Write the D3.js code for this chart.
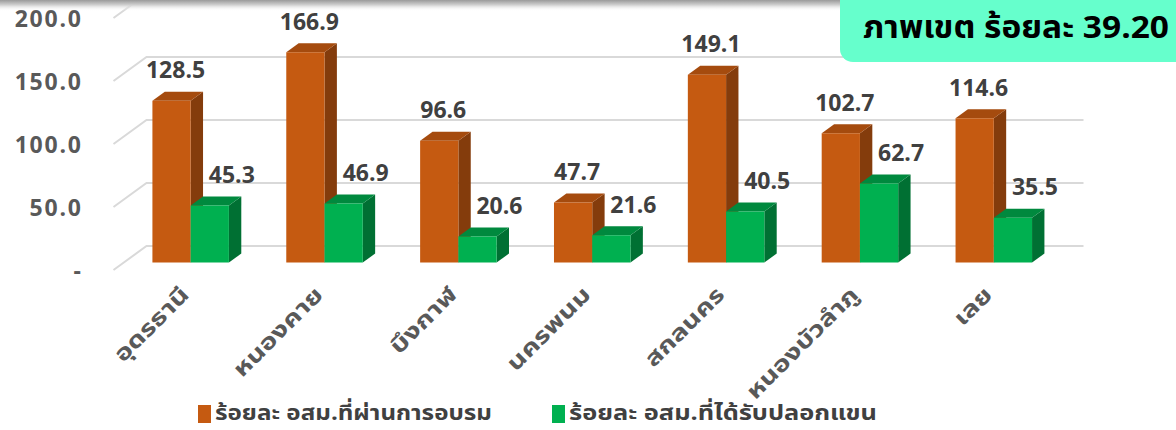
<!DOCTYPE html>
<html><head><meta charset="utf-8">
<script src="https://cdn.jsdelivr.net/npm/d3@7"></script>
<style>
html,body{margin:0;padding:0;background:#fff;}
svg{display:block;font-family:"Noto Sans Thai","Noto Sans","DejaVu Sans",sans-serif;}
</style></head>
<body><svg id="c" width="1176" height="430"></svg>
<script>
const categories = ["อุดรธานี","หนองคาย","บึงกาฬ","นครพนม","สกลนคร","หนองบัวลำภู","เลย"];
const trained = [128.5,166.9,96.6,47.7,149.1,102.7,114.6];
const sleeved = [45.3,46.9,20.6,21.6,40.5,62.7,35.5];
const seriesNames = ["ร้อยละ อสม.ที่ผ่านการอบรม","ร้อยละ อสม.ที่ได้รับปลอกแขน"];
const yTicks = [0,50,100,150,200];
const yTickLabels = ["-","50.0","100.0","150.0","200.0"];
const titleText = "ภาพเขต ร้อยละ 39.20";

const svg = d3.select("#c");

// oblique 3D projection parameters
const depthDX = 33, depthDY = -24;   // front floor edge -> back wall
const barZ0 = 0.31, barZ1 = 0.685;   // bar front / back depth fraction

const x = d3.scaleBand().domain(categories).range([113.5,1050.5]).paddingInner(0.4285).paddingOuter(0.2143);
const xs = d3.scaleBand().domain([0,1]).range([0, x.bandwidth()]);
const y = d3.scaleLinear().domain([0,200]).range([270,18]);

const proj = (px, v, z) => [px + z*depthDX, y(v) + z*depthDY];

const colors = [
  {front:"#C55A11", top:"#A54B0E", side:"#843C0C"},
  {front:"#00B050", top:"#00893E", side:"#007033"}
];

// top shadow gradient
const defs = svg.append("defs");
const g1 = defs.append("linearGradient").attr("id","sh").attr("x1",0).attr("y1",0).attr("x2",0).attr("y2",1);
g1.append("stop").attr("offset","0%").attr("stop-color","#9a9a9a");
g1.append("stop").attr("offset","45%").attr("stop-color","#d0d0d0");
g1.append("stop").attr("offset","100%").attr("stop-color","#ffffff").attr("stop-opacity",0);

// gridlines: back wall + left side wall
const grid = svg.append("g").attr("stroke","#D9D9D9").attr("stroke-width",2).attr("fill","none");
yTicks.forEach(v=>{
  const a = proj(x.range()[0], v, 0), b = proj(x.range()[0], v, 1), c = proj(x.range()[1], v, 1);
  grid.append("path").attr("d", d3.line()([a,b,c]));
});

// bars
const barsG = svg.append("g");
categories.forEach((cat,i)=>{
  [trained[i], sleeved[i]].forEach((v,s)=>{
    const xl = x(cat) + xs(s), xr = xl + xs.bandwidth();
    const fTL = proj(xl, v, barZ0), fTR = proj(xr, v, barZ0);
    const fBL = proj(xl, 0, barZ0), fBR = proj(xr, 0, barZ0);
    const bTL = proj(xl, v, barZ1), bTR = proj(xr, v, barZ1), bBR = proj(xr, 0, barZ1);
    const c = colors[s];
    barsG.append("path").attr("d", d3.line()([fTR,bTR,bBR,fBR])+"Z").attr("fill",c.side);
    barsG.append("path").attr("d", d3.line()([fTL,fTR,bTR,bTL])+"Z").attr("fill",c.top);
    barsG.append("path").attr("d", d3.line()([fTL,fTR,fBR,fBL])+"Z").attr("fill",c.front);
  });
});

// value labels
const labG = svg.append("g").attr("font-weight","bold").attr("font-size",23).attr("fill","#404040").attr("text-anchor","middle");
categories.forEach((cat,i)=>{
  [trained[i], sleeved[i]].forEach((v,s)=>{
    const cx = x(cat) + xs(s) + xs.bandwidth()/2;
    const p = proj(cx, v, barZ0);
    labG.append("text").attr("x", p[0] + (s===0?4:22)).attr("y", p[1] - 22.5).text(v.toFixed(1));
  });
});

// y axis labels
const yAxis = d3.axisLeft(y).tickValues(yTicks).tickSize(0).tickPadding(0)
  .tickFormat((d,i)=>yTickLabels[i]);
const ya = svg.append("g").attr("transform","translate(81,0)").call(yAxis);
ya.select(".domain").remove();
ya.selectAll("text").attr("font-size",23).attr("font-weight","bold").attr("fill","#595959")
  .attr("font-family",'"Noto Sans Thai","Noto Sans",sans-serif').attr("dy","0.36em")
  .attr("letter-spacing",1.8).attr("dx",1.8);

// category labels
const catG = svg.append("g").attr("font-weight","bold").attr("font-size",22).attr("fill","#595959");
categories.forEach(cat=>{
  const cx = x(cat) + x.bandwidth()/2 + 10;
  catG.append("text").attr("text-anchor","end")
    .attr("transform",`translate(${cx},296) rotate(-45) scale(1.28,1)`).text(cat);
});

// legend
const legendLen = [277, 308];
const leg = svg.append("g").attr("font-weight","bold").attr("font-size",21).attr("fill","#404040");
[[198,0],[552,1]].forEach(([lx,s])=>{
  leg.append("rect").attr("x",lx).attr("y",405).attr("width",13).attr("height",18).attr("fill",colors[s].front);
  leg.append("text").attr("x",lx+17).attr("y",420).attr("textLength",legendLen[s]).attr("lengthAdjust","spacingAndGlyphs")
    .text(seriesNames[s]);
});

// top shadow band
svg.append("rect").attr("x",0).attr("y",0).attr("width",842).attr("height",11).attr("fill","url(#sh)");

// title box
svg.append("rect").attr("x",840).attr("y",-20).attr("width",360).attr("height",82).attr("rx",13).attr("fill","#66FFCC");
svg.append("text").attr("x",863).attr("y",38).attr("font-size",31).attr("font-weight","bold").attr("fill","#000")
  .attr("textLength",306).attr("lengthAdjust","spacingAndGlyphs").text(titleText);
</script></body></html>
